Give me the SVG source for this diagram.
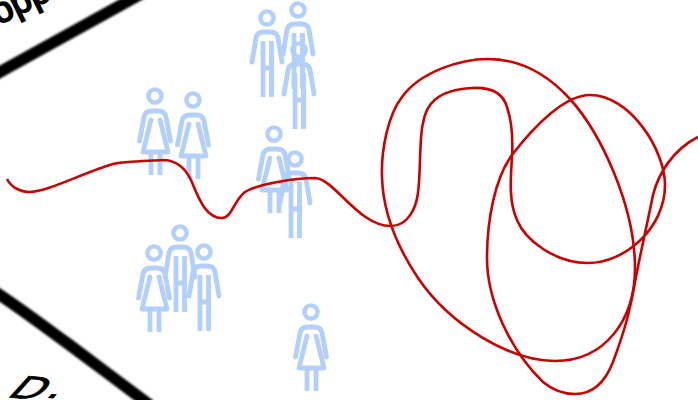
<svg xmlns="http://www.w3.org/2000/svg" xmlns:xlink="http://www.w3.org/1999/xlink" width="698" height="400" viewBox="0 0 698 400">
<style>
.p{fill:none;stroke:#b3cffb;stroke-width:4.8;stroke-linecap:round;stroke-linejoin:round}
.p .b{stroke-linecap:butt}
.p circle{stroke-width:4.4}
.r{fill:none;stroke:#cc0000;stroke-width:2.6}
.k{fill:none;stroke:#000;stroke-width:11.5}
.t{font-family:"Liberation Sans",sans-serif;fill:#000;stroke:#000;stroke-width:1.8}
.d{stroke-width:1}
</style>
<defs>
<filter id="bl" x="-20%" y="-20%" width="140%" height="140%"><feGaussianBlur stdDeviation="1"/></filter>
<g id="f" class="p"><circle cx="0" cy="0" r="6.6"/><path d="M-15.5,45L-11,21Q-10,15-3,15H3Q10,15 11,21L15.5,45"/><path d="M-4,24L-12,56H13L5,24"/><path class="b" d="M-4,56V79M5,56V79"/></g>
<g id="m" class="p"><circle cx="0" cy="0" r="6.6"/><path d="M-15,44L-11,20Q-10,14-3,14H3Q10,14 11,20L15,44"/><path class="b" d="M-4,23V79M4.5,23V79M-4,50H4.5"/></g>
</defs>
<g id="bands">
<path class="k" filter="url(#bl)" d="M-10,77.5L150,-11"/>
<path class="k" filter="url(#bl)" d="M-6,291C20,308 45,327 67,343C95,364 122,384 150,405"/>
<text class="t" font-size="36" transform="translate(-1.5,25) rotate(-26)">opp</text>
<text class="t d" font-size="40" transform="matrix(1.1 .1 -.7 .77 6 397)">D<tspan dx="3.7" dy="-4">.</tspan></text>
</g>
<g id="people">
<use id="woman-1" xlink:href="#f" href="#f" x="155" y="96"/>
<use id="woman-2" xlink:href="#f" href="#f" x="193" y="100"/>
<use id="man-1" xlink:href="#m" href="#m" x="267" y="18"/>
<use id="man-2" xlink:href="#m" href="#m" x="298" y="10"/>
<use id="man-3" xlink:href="#m" href="#m" x="299" y="50"/>
<use id="woman-3" xlink:href="#f" href="#f" x="274" y="134"/>
<use id="man-4" xlink:href="#m" href="#m" x="295" y="159"/>
<use id="woman-4" xlink:href="#f" href="#f" x="154" y="253"/>
<use id="man-5" xlink:href="#m" href="#m" x="180" y="233"/>
<use id="man-6" xlink:href="#m" href="#m" x="204" y="252"/>
<use id="woman-5" xlink:href="#f" href="#f" x="311" y="312"/>
</g>
<g id="connectors">
<path class="r" d="M7,179C11,187 20,192 30,192C47,192 85,172 113,164C125,161 150,161 163,160C175,160 184,167 190,178C196,190 203,218 222,218C232,218 234,200 245,192C258,184 295,178 315,178C335,179 358,226 391,226C408,226 416,208 418,193C421,170 419,140 423,123C426,105 436,90 472,88C490,87 503,93 507,107C512,122 513,140 512,157C511,175 508,200 517,220C525,240 555,263 588,263C625,263 665,228 665,185C665,150 630,95 590,95C565,95 535,125 512,155C495,178 487,220 487,258C487,300 510,350 543,382C555,392 565,394 575,394C590,394 604,385 613,362C625,330 630,310 635,282C640,255 648,220 653,195C658,175 672,150 698,137"/>
<path class="r" d="M382,177C381,150 388,115 402,97C420,72 460,59 488,59C520,59 548,75 570,99C600,132 635,205 635,268C635,320 605,361 555,361C510,361 450,325 418,278C398,248 383,215 382,177Z"/>
</g>
</svg>
